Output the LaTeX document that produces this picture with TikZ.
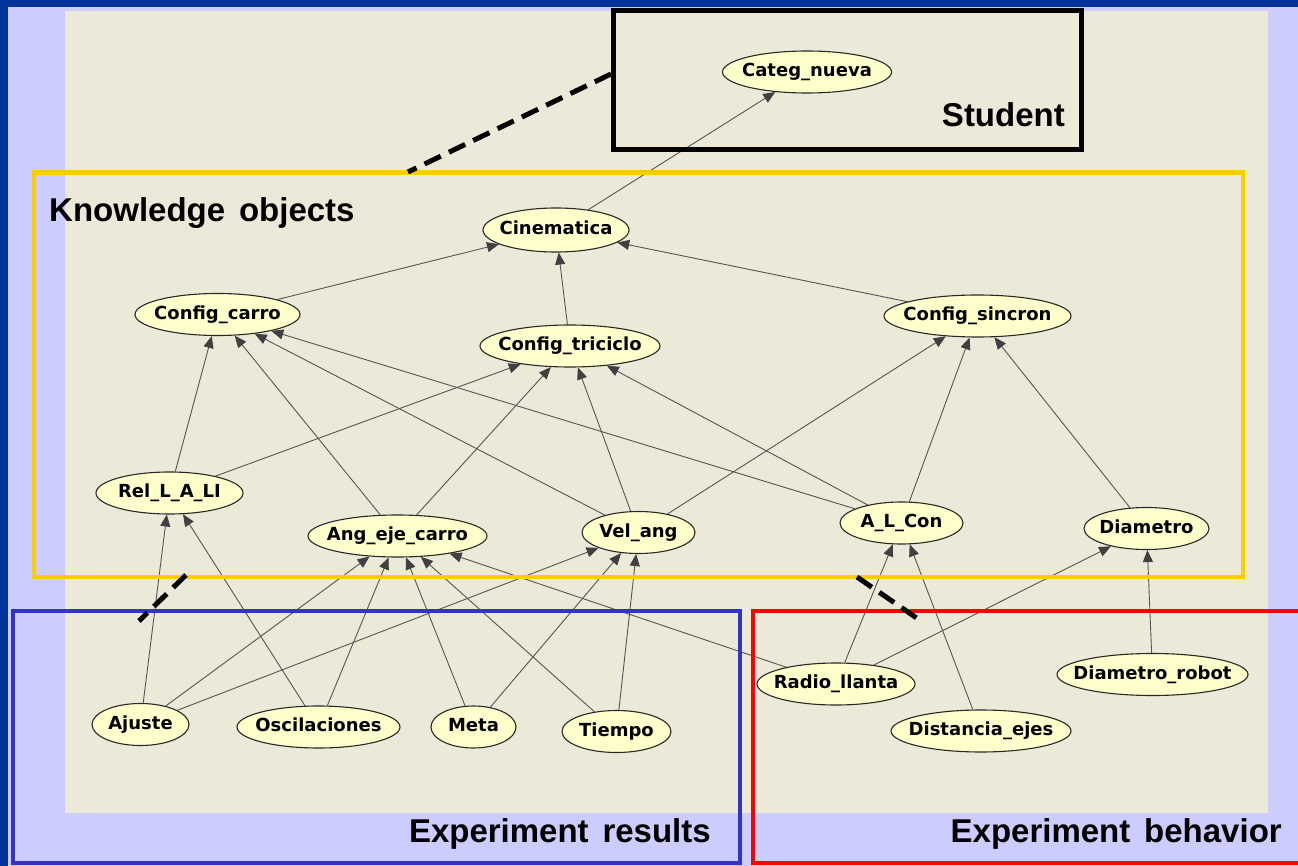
\documentclass[tikz,border=0pt]{standalone}
\usepackage{fontspec}
\setmainfont{Liberation Sans}
\newfontfamily\nodefont{DejaVu Sans}
\usetikzlibrary{shapes.geometric,arrows.meta}
\definecolor{dkblue}{RGB}{0,51,153}
\definecolor{lav}{RGB}{204,204,255}
\definecolor{beige}{RGB}{236,233,216}
\definecolor{ycol}{RGB}{255,204,0}
\definecolor{bcol}{RGB}{51,51,204}
\definecolor{rcol}{RGB}{255,0,0}
\definecolor{nodefill}{RGB}{255,255,204}
\definecolor{nodeline}{RGB}{40,40,40}
\definecolor{edgecol}{RGB}{85,85,85}
\definecolor{arrowcol}{RGB}{64,64,64}
\pgfdeclarelayer{bg}
\pgfdeclarelayer{edges}
\pgfdeclarelayer{fg}
\pgfsetlayers{bg,edges,main,fg}
\newcommand\ntx[1]{\makebox[0pt]{\rule[-0.25em]{0pt}{0.95em}#1}}
\begin{document}
\begin{tikzpicture}[x=1pt,y=-1pt,
  kn/.style={ellipse, draw=nodeline, line width=1.1pt, fill=nodefill, inner sep=0pt,
    minimum height=42pt, font=\nodefont\bfseries\fontsize{18}{21}\selectfont},
  dep/.style={draw=edgecol, line width=0.9pt,
    -{Triangle[length=12pt,width=10pt,color=arrowcol,fill=arrowcol]}},
  grp/.style={font=\bfseries\fontsize{33}{36}\selectfont, inner sep=0pt},
  dashln/.style={draw=black, line width=5pt, dash pattern=on 18pt off 9pt}]
\useasboundingbox (0,0) rectangle (1298,866);
\begin{pgfonlayer}{bg}
  \fill[dkblue] (0,0) rectangle (1298,866);
  \fill[lav] (8,7) rectangle (1298,866);
  \fill[beige] (65,11) rectangle (1268,813);
\end{pgfonlayer}

% nodes
\node[kn, minimum width=169pt] (cat) at (807,72) {\ntx{Categ\_nueva}};
\node[kn, minimum width=146pt, minimum height=44pt] (cin) at (556,230) {\ntx{Cinematica}};
\node[kn, minimum width=165pt] (ccar) at (217.5,314.5) {\ntx{Config\_carro}};
\node[kn, minimum width=180pt] (ctri) at (570,346) {\ntx{Config\_triciclo}};
\node[kn, minimum width=187pt] (csin) at (977.5,316) {\ntx{Config\_sincron}};
\node[kn, minimum width=147pt] (rel) at (169.5,493) {\ntx{Rel\_L\_A\_LI}};
\node[kn, minimum width=179pt] (ang) at (397.5,536) {\ntx{Ang\_eje\_carro}};
\node[kn, minimum width=113pt] (vel) at (638.5,532.5) {\ntx{Vel\_ang}};
\node[kn, minimum width=123pt] (alc) at (901.5,523) {\ntx{A\_L\_Con}};
\node[kn, minimum width=125pt] (dia) at (1146.5,528.5) {\ntx{Diametro}};
\node[kn, minimum width=97pt] (aju) at (140.5,724.5) {\ntx{Ajuste}};
\node[kn, minimum width=163pt] (osc) at (318.5,727) {\ntx{Oscilaciones}};
\node[kn, minimum width=85pt] (met) at (473.5,727) {\ntx{Meta}};
\node[kn, minimum width=109pt] (tie) at (616.5,731.5) {\ntx{Tiempo}};
\node[kn, minimum width=158pt] (rad) at (836,684) {\ntx{Radio\_llanta}};
\node[kn, minimum width=180pt] (dis) at (981,731) {\ntx{Distancia\_ejes}};
\node[kn, minimum width=191pt] (dro) at (1152.5,674.5) {\ntx{Diametro\_robot}};

% edges
\begin{pgfonlayer}{edges}
  \foreach \a/\b in {cin/cat, ccar/cin, ctri/cin, csin/cin,
      rel/ccar, rel/ctri, ang/ccar, ang/ctri, vel/ccar, vel/ctri, vel/csin,
      alc/ccar, alc/ctri, alc/csin, dia/csin,
      aju/rel, osc/rel, aju/ang, aju/vel, osc/ang, met/ang, met/vel,
      tie/ang, tie/vel, rad/ang, rad/alc, rad/dia, dis/alc, dro/dia}
    \draw[dep] (\a) -- (\b);
\end{pgfonlayer}

% group boxes, dashed links, labels
\begin{pgfonlayer}{fg}
  \draw[black, line width=5pt] (613,11) rectangle (1081,150);
  \draw[ycol, line width=4.5pt] (34,172.5) rectangle (1243,577);
  \draw[bcol, line width=4pt] (13,610.5) rectangle (740,863);
  \draw[rcol, line width=4pt] (1302,610.5) -- (753,610.5) -- (753,863) -- (1302,863);
  \coordinate (d1a) at (611,74);
  \coordinate (d1b) at (408,172);
  \coordinate (d2a) at (186,575);
  \coordinate (d2b) at (139,621);
  \coordinate (d3a) at (857,577);
  \coordinate (d3b) at (921,621);
  \draw[dashln] (d1a) -- (d1b);
  \draw[dashln] (d2a) -- (d2b);
  \draw[dashln] (d3a) -- (d3b);
  \node[grp, anchor=base west] (ko) at (49,222) {Knowledge\hspace{0.42em}objects};
  \node[grp, anchor=base east] (st) at (1065,127) {Student};
  \node[grp, anchor=base east] (er) at (711,842) {Experiment\hspace{0.42em}results};
  \node[grp, anchor=base east] (eb) at (1282,842) {Experiment\hspace{0.42em}behavior};
\end{pgfonlayer}
\end{tikzpicture}
\end{document}
